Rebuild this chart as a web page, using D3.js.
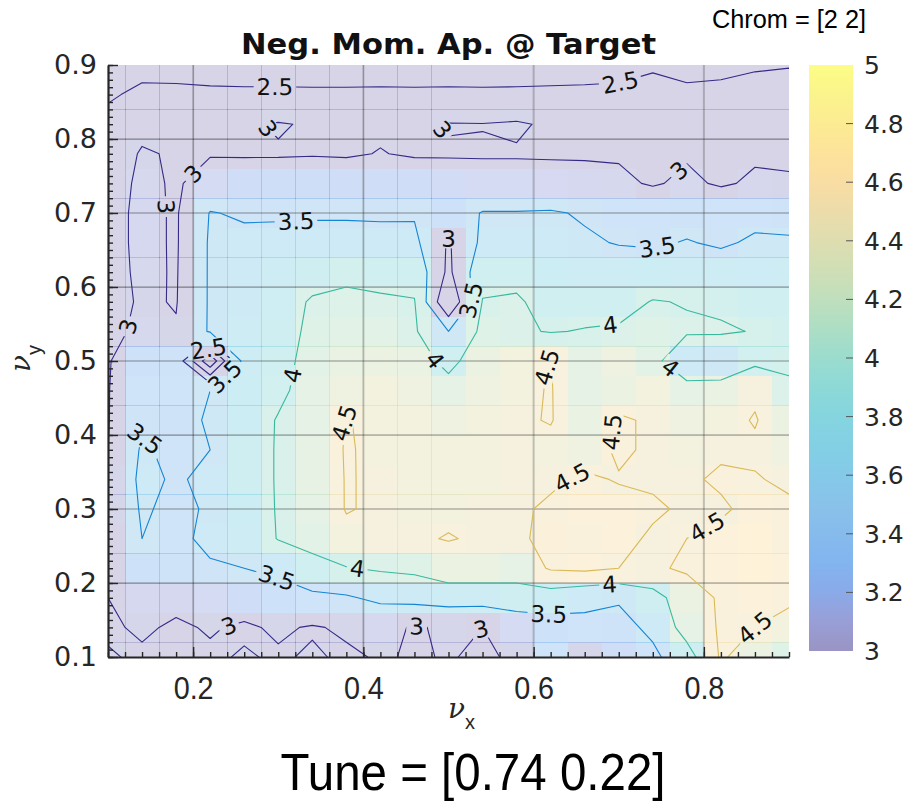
<!DOCTYPE html>
<html>
<head>
<meta charset="utf-8">
<script src="https://cdn.jsdelivr.net/npm/d3@7"></script>
<style>
  body { margin: 0; background: #fff; }
  svg { display: block; font-family: "DejaVu Sans", sans-serif; }
</style>
</head>
<body>
<svg width="906" height="801"></svg>
<script>
// tune grid (nu_x across, nu_y down from the top row)
const tuneX = [0.10, 0.14, 0.18, 0.22, 0.26, 0.30, 0.34, 0.38, 0.42, 0.46, 0.50,
               0.54, 0.58, 0.62, 0.66, 0.70, 0.74, 0.78, 0.82, 0.86, 0.90];
const tuneY = [0.90, 0.86, 0.82, 0.78, 0.74, 0.70, 0.66, 0.62, 0.58, 0.54, 0.50,
               0.46, 0.42, 0.38, 0.34, 0.30, 0.26, 0.22, 0.18, 0.14, 0.10];

// negative momentum aperture, one row per nu_y
const row090 = [2.30, 2.38, 2.40, 2.38, 2.36, 2.36, 2.35, 2.35, 2.36, 2.35, 2.36, 2.35, 2.36, 2.36, 2.38, 2.38, 2.42, 2.38, 2.40, 2.44, 2.47];
const row086 = [2.45, 2.58, 2.56, 2.55, 2.55, 2.55, 2.55, 2.55, 2.55, 2.55, 2.55, 2.55, 2.55, 2.56, 2.56, 2.58, 2.72, 2.58, 2.60, 2.70, 2.75];
const row082 = [2.62, 2.88, 2.92, 2.94, 2.96, 3.03, 2.96, 2.97, 2.96, 2.96, 3.02, 3.01, 3.05, 2.94, 2.95, 2.92, 2.90, 2.92, 2.90, 2.88, 2.85];
const row078 = [2.75, 3.04, 2.96, 2.98, 2.97, 2.97, 2.98, 2.97, 3.01, 2.97, 2.97, 2.97, 2.97, 2.97, 2.97, 2.96, 2.95, 2.96, 2.95, 2.95, 2.94];
const row074 = [2.82, 3.08, 2.96, 3.15, 3.20, 3.22, 3.22, 3.20, 3.20, 3.20, 3.18, 3.15, 3.15, 3.12, 3.10, 3.08, 2.96, 3.08, 2.95, 3.06, 3.04];
const row070 = [2.85, 3.10, 2.96, 3.52, 3.45, 3.45, 3.46, 3.46, 3.45, 3.46, 3.30, 3.52, 3.52, 3.54, 3.46, 3.40, 3.38, 3.36, 3.38, 3.40, 3.35];
const row066 = [2.85, 3.10, 2.96, 3.55, 3.60, 3.62, 3.62, 3.62, 3.62, 3.60, 2.95, 3.60, 3.62, 3.60, 3.55, 3.48, 3.45, 3.52, 3.45, 3.55, 3.55];
const row062 = [2.85, 3.08, 2.97, 3.55, 3.62, 3.70, 3.80, 3.92, 3.88, 3.85, 2.90, 3.85, 3.88, 3.75, 3.70, 3.70, 3.72, 3.70, 3.70, 3.68, 3.70];
const row058 = [2.85, 3.05, 2.98, 3.55, 3.65, 3.78, 4.05, 4.08, 4.05, 4.02, 2.50, 4.02, 4.05, 3.85, 3.85, 3.85, 4.02, 3.98, 3.92, 3.85, 3.85];
const row054 = [2.90, 3.08, 3.03, 3.55, 3.70, 3.80, 4.10, 4.15, 4.15, 4.05, 3.50, 4.10, 4.05, 3.98, 4.02, 4.05, 4.10, 4.05, 4.05, 3.98, 3.92];
const row050 = [2.97, 3.30, 3.35, 1.60, 3.70, 3.85, 4.15, 4.25, 4.30, 4.25, 3.85, 4.30, 4.40, 4.51, 4.20, 4.35, 4.15, 3.60, 3.55, 3.90, 3.95];
const row046 = [2.98, 3.40, 3.40, 3.50, 3.75, 3.90, 4.20, 4.35, 4.40, 4.35, 4.20, 4.35, 4.42, 4.52, 4.20, 4.30, 4.40, 4.20, 4.25, 4.45, 4.05];
const row042 = [2.98, 3.45, 3.35, 3.55, 3.75, 4.03, 4.20, 4.52, 4.40, 4.40, 4.35, 4.40, 4.45, 4.52, 4.25, 4.55, 4.45, 4.35, 4.40, 4.52, 4.30];
const row038 = [3.00, 3.55, 3.40, 3.50, 3.80, 4.03, 4.22, 4.53, 4.42, 4.40, 4.40, 4.42, 4.45, 4.40, 4.35, 4.55, 4.45, 4.40, 4.45, 4.45, 4.35];
const row034 = [3.05, 3.60, 3.45, 3.60, 3.80, 4.03, 4.22, 4.52, 4.45, 4.42, 4.40, 4.42, 4.45, 4.45, 4.55, 4.48, 4.45, 4.45, 4.55, 4.52, 4.45];
const row030 = [3.05, 3.55, 3.40, 3.55, 3.75, 4.03, 4.20, 4.52, 4.45, 4.42, 4.42, 4.45, 4.45, 4.55, 4.60, 4.60, 4.55, 4.45, 4.45, 4.60, 4.55];
const row026 = [3.00, 3.50, 3.40, 3.60, 3.70, 4.02, 4.15, 4.40, 4.45, 4.45, 4.52, 4.45, 4.45, 4.58, 4.55, 4.60, 4.45, 4.50, 4.60, 4.65, 4.55];
const row022 = [3.00, 3.30, 3.35, 3.45, 3.50, 3.60, 3.85, 3.98, 4.05, 4.10, 4.30, 4.30, 4.20, 4.55, 4.60, 4.50, 4.45, 4.55, 4.60, 4.65, 4.60];
const row018 = [3.00, 3.10, 3.10, 3.15, 3.20, 3.30, 3.40, 3.45, 3.60, 3.65, 3.70, 3.70, 3.80, 3.75, 3.60, 3.55, 3.80, 4.30, 4.55, 4.60, 4.55];
const row014 = [2.95, 3.05, 2.95, 3.03, 2.95, 3.05, 2.97, 3.05, 3.10, 2.97, 3.05, 3.00, 3.15, 3.30, 3.40, 3.35, 3.60, 4.20, 4.55, 4.50, 4.40];
const row010 = [3.03, 2.95, 2.97, 2.95, 3.03, 2.96, 3.04, 2.95, 3.03, 2.97, 3.02, 2.95, 3.05, 3.40, 3.05, 3.20, 3.40, 3.80, 4.55, 4.30, 4.10];

const apertureRows = [row090, row086, row082, row078, row074, row070, row066, row062, row058, row054, row050,
                      row046, row042, row038, row034, row030, row026, row022, row018, row014, row010];

const contourLevels = [2, 2.5, 3, 3.5, 4, 4.5];
const xTicks = [0.2, 0.4, 0.6, 0.8];
const yTicks = [0.1, 0.2, 0.3, 0.4, 0.5, 0.6, 0.7, 0.8, 0.9];
const colorTicks = [3, 3.2, 3.4, 3.6, 3.8, 4, 4.2, 4.4, 4.6, 4.8, 5];
const colorRange = [3, 5];

const titleText = "Neg. Mom. Ap. @ Target";
const chromText = "Chrom = [2 2]";
const tuneText = "Tune = [0.74 0.22]";

// parula colormap stops
const parulaStops = ["#352a87", "#3243ba", "#0363e1", "#0d75dc", "#1485d4", "#0998d1", "#06a7c6",
                     "#15b1b4", "#38b99e", "#65be86", "#92bf73", "#b7bd64", "#d9ba56", "#f8bb44",
                     "#fcce2e", "#f5e41d", "#f9fb0e"];

const svg = d3.select("svg");
const width = +svg.attr("width");
const height = +svg.attr("height");

const plot = { left: 108, right: 789, top: 65, bottom: 657 };

const x = d3.scaleLinear().domain([0.1, 0.9]).range([plot.left, plot.right]);
const y = d3.scaleLinear().domain([0.1, 0.9]).range([plot.bottom, plot.top]);

const parula = d3.piecewise(d3.interpolateRgb, parulaStops);
const color = d3.scaleSequential(parula).domain(colorRange).clamp(true);

const step = tuneX[1] - tuneX[0];
const cellW = Math.abs(x(tuneX[1]) - x(tuneX[0]));
const cellH = Math.abs(y(tuneY[0]) - y(tuneY[1]));

const defs = svg.append("defs");

defs.append("clipPath")
  .attr("id", "plot-clip")
  .append("rect")
  .attr("x", plot.left)
  .attr("y", plot.top)
  .attr("width", plot.right - plot.left)
  .attr("height", plot.bottom - plot.top);

// heatmap
const cells = [];
apertureRows.forEach((row, j) => {
  row.forEach((v, i) => cells.push({ nx: tuneX[i], ny: tuneY[j], v }));
});

svg.append("g")
  .attr("clip-path", "url(#plot-clip)")
  .selectAll("rect")
  .data(cells)
  .join("rect")
  .attr("x", d => x(d.nx) - cellW / 2)
  .attr("y", d => y(d.ny) - cellH / 2)
  .attr("width", cellW + 0.5)
  .attr("height", cellH + 0.5)
  .attr("fill", d => color(d.v))
  .attr("fill-opacity", 0.2)
  .attr("shape-rendering", "crispEdges");

// grid
const gridG = svg.append("g")
  .attr("stroke", "#262626")
  .attr("stroke-opacity", 0.25)
  .attr("stroke-width", 2);

gridG.selectAll("line.vx")
  .data(xTicks)
  .join("line")
  .attr("class", "vx")
  .attr("x1", d => x(d)).attr("x2", d => x(d))
  .attr("y1", plot.top).attr("y2", plot.bottom);

gridG.selectAll("line.hy")
  .data(yTicks.slice(1, -1))
  .join("line")
  .attr("class", "hy")
  .attr("y1", d => y(d)).attr("y2", d => y(d))
  .attr("x1", plot.left).attr("x2", plot.right);

// contours
const nCols = tuneX.length;
const nRows = tuneY.length;
const contours = d3.contours()
  .size([nCols, nRows])
  .thresholds(contourLevels)(apertureRows.flat());

const gx = c => x(tuneX[0] + (c - 0.5) * step);
const gy = c => y(tuneY[0] - (c - 0.5) * step);

const path = d3.geoPath(d3.geoTransform({
  point(px, py) { this.stream.point(gx(px), gy(py)); }
}));

const mask = defs.append("mask")
  .attr("id", "label-gaps")
  .attr("maskUnits", "userSpaceOnUse")
  .attr("x", 0).attr("y", 0)
  .attr("width", width).attr("height", height);

mask.append("rect")
  .attr("width", width)
  .attr("height", height)
  .attr("fill", "white");

svg.append("g")
  .attr("clip-path", "url(#plot-clip)")
  .append("g")
  .attr("mask", "url(#label-gaps)")
  .selectAll("path")
  .data(contours)
  .join("path")
  .attr("d", path)
  .attr("fill", "none")
  .attr("stroke", d => color(d.value))
  .attr("stroke-width", 1.1)
  .attr("stroke-linejoin", "round");

// contour labels along the visible parts of each line
function isInside(p) {
  return p[0] >= plot.left - 0.5 && p[0] <= plot.right + 0.5 &&
         p[1] >= plot.top - 0.5 && p[1] <= plot.bottom + 0.5;
}

function visibleRuns(pts) {
  const start = pts.findIndex(p => !isInside(p));
  const seq = start < 0 ? pts.concat([pts[0]]) : pts.slice(start).concat(pts.slice(0, start + 1));
  const runs = [];
  let cur = [];
  seq.forEach(p => {
    if (isInside(p)) cur.push(p);
    else {
      if (cur.length > 1) runs.push(cur);
      cur = [];
    }
  });
  if (cur.length > 1) runs.push(cur);
  return runs;
}

function pointAt(run, cum, s) {
  let i = 1;
  while (i < cum.length - 1 && cum[i] < s) i++;
  const seg = cum[i] - cum[i - 1] || 1;
  const t = (s - cum[i - 1]) / seg;
  return [run[i - 1][0] + t * (run[i][0] - run[i - 1][0]),
          run[i - 1][1] + t * (run[i][1] - run[i - 1][1])];
}

const labelSpots = [];
contours.forEach(level => {
  level.coordinates.forEach(polygon => {
    polygon.forEach(ring => {
      const pts = ring.map(c => [gx(c[0]), gy(c[1])]);
      visibleRuns(pts).forEach(run => {
        const cum = [0];
        for (let i = 1; i < run.length; i++) {
          cum.push(cum[i - 1] + Math.hypot(run[i][0] - run[i - 1][0], run[i][1] - run[i - 1][1]));
        }
        const L = cum[cum.length - 1];
        if (L < 70) return;
        const n = Math.max(1, Math.floor(L / 250));
        for (let k = 0; k < n; k++) {
          const s = (k + 0.5) * L / n;
          const p = pointAt(run, cum, s);
          const a = pointAt(run, cum, Math.max(0, s - 9));
          const b = pointAt(run, cum, Math.min(L, s + 9));
          let ang = Math.atan2(b[1] - a[1], b[0] - a[0]) * 180 / Math.PI;
          if (ang > 90) ang -= 180;
          if (ang < -90) ang += 180;
          if (p[0] < plot.left + 8 || p[0] > plot.right - 8 ||
              p[1] < plot.top + 8 || p[1] > plot.bottom - 8) continue;
          if (labelSpots.some(q => Math.hypot(q.x - p[0], q.y - p[1]) < 32)) continue;
          labelSpots.push({ x: p[0], y: p[1], angle: ang, value: level.value });
        }
      });
    });
  });
});

const labelG = svg.append("g");
const labels = labelG.selectAll("text")
  .data(labelSpots)
  .join("text")
  .attr("transform", d => `translate(${d.x},${d.y}) rotate(${d.angle})`)
  .attr("text-anchor", "middle")
  .attr("dy", "0.36em")
  .attr("font-size", 23)
  .attr("fill", "#111")
  .text(d => String(d.value));

labels.each(function(d) {
  const w = this.getComputedTextLength();
  mask.append("rect")
    .attr("x", -w / 2 - 3)
    .attr("y", -10)
    .attr("width", w + 6)
    .attr("height", 20)
    .attr("transform", `translate(${d.x},${d.y}) rotate(${d.angle})`)
    .attr("fill", "black");
});

// axes
const axisColor = "#262626";

const yAxis = svg.append("g")
  .attr("transform", `translate(${plot.left},0)`)
  .call(d3.axisLeft(y).tickValues(yTicks).tickSizeInner(-10).tickSizeOuter(0).tickPadding(11)
    .tickFormat(d3.format(".1f")));

svg.append("g")
  .attr("transform", `translate(${plot.left},0)`)
  .call(d3.axisLeft(y).tickValues(d3.range(10, 91).map(v => v / 100)).tickSize(-5).tickFormat(""))
  .call(g => g.select(".domain").remove());

const xAxis = svg.append("g")
  .attr("transform", `translate(0,${plot.bottom})`)
  .call(d3.axisBottom(x).tickValues(xTicks).tickSizeInner(-10).tickSizeOuter(0).tickPadding(19)
    .tickFormat(d3.format(".1f")));

svg.append("g")
  .attr("transform", `translate(0,${plot.bottom})`)
  .call(d3.axisBottom(x).tickValues(d3.range(5, 46).map(v => v / 50)).tickSize(-5).tickFormat(""))
  .call(g => g.select(".domain").remove());

svg.selectAll(".domain").attr("stroke", axisColor).attr("stroke-width", 2.2);
svg.selectAll(".tick line").attr("stroke", axisColor).attr("stroke-width", 1.4);

yAxis.selectAll("text")
  .attr("font-family", "DejaVu Sans")
  .attr("font-size", 27)
  .attr("fill", axisColor);

xAxis.selectAll("text")
  .attr("font-family", "Liberation Sans")
  .attr("font-size", 32)
  .attr("fill", axisColor)
  .attr("textLength", 40)
  .attr("lengthAdjust", "spacingAndGlyphs");

// colorbar
const cb = { left: 809, right: 853, top: 65, bottom: 651 };
const cbY = d3.scaleLinear().domain(colorRange).range([cb.bottom, cb.top]);

const grad = defs.append("linearGradient")
  .attr("id", "cb-grad")
  .attr("x1", 0).attr("y1", 1).attr("x2", 0).attr("y2", 0);

grad.selectAll("stop")
  .data(d3.range(0, 1.0001, 0.05))
  .join("stop")
  .attr("offset", d => d)
  .attr("stop-color", d => color(colorRange[0] + d * (colorRange[1] - colorRange[0])));

svg.append("rect")
  .attr("x", cb.left)
  .attr("y", cb.top)
  .attr("width", cb.right - cb.left)
  .attr("height", cb.bottom - cb.top)
  .attr("fill", "url(#cb-grad)")
  .attr("fill-opacity", 0.5);

svg.append("g")
  .selectAll("line")
  .data(colorTicks.slice(1, -1))
  .join("line")
  .attr("x1", cb.right - 7).attr("x2", cb.right)
  .attr("y1", d => cbY(d)).attr("y2", d => cbY(d))
  .attr("stroke", "#555")
  .attr("stroke-width", 1);

svg.append("g")
  .selectAll("text")
  .data(colorTicks)
  .join("text")
  .attr("x", 864)
  .attr("y", d => cbY(d))
  .attr("dy", "0.36em")
  .attr("font-size", 25)
  .attr("fill", axisColor)
  .text(d => d3.format("~g")(d));

// titles and annotations
svg.append("text")
  .attr("x", (plot.left + plot.right) / 2)
  .attr("y", 54)
  .attr("text-anchor", "middle")
  .attr("font-weight", "bold")
  .attr("font-size", 28)
  .attr("fill", "#111")
  .attr("textLength", 415)
  .attr("lengthAdjust", "spacingAndGlyphs")
  .text(titleText);

svg.append("text")
  .attr("x", 712)
  .attr("y", 28)
  .attr("font-family", "Liberation Sans")
  .attr("font-size", 25)
  .attr("fill", "#000")
  .attr("textLength", 154)
  .attr("lengthAdjust", "spacingAndGlyphs")
  .text(chromText);

svg.append("text")
  .attr("x", 473)
  .attr("y", 790)
  .attr("text-anchor", "middle")
  .attr("font-family", "Liberation Sans")
  .attr("font-size", 52)
  .attr("fill", "#000")
  .attr("textLength", 385)
  .attr("lengthAdjust", "spacingAndGlyphs")
  .text(tuneText);

const xLabel = svg.append("text")
  .attr("x", 448)
  .attr("y", 718)
  .attr("fill", axisColor);
xLabel.append("tspan")
  .attr("font-family", "DejaVu Serif")
  .attr("font-style", "italic")
  .attr("font-size", 28)
  .text("ν");
xLabel.append("tspan")
  .attr("font-family", "Liberation Sans")
  .attr("font-size", 20)
  .attr("dy", 11)
  .text("x");

const yLabel = svg.append("text")
  .attr("transform", "translate(30,372) rotate(-90)")
  .attr("fill", axisColor);
yLabel.append("tspan")
  .attr("font-family", "DejaVu Serif")
  .attr("font-style", "italic")
  .attr("font-size", 28)
  .text("ν");
yLabel.append("tspan")
  .attr("font-family", "Liberation Sans")
  .attr("font-size", 20)
  .attr("dy", 11)
  .text("y");
</script>
</body>
</html>
